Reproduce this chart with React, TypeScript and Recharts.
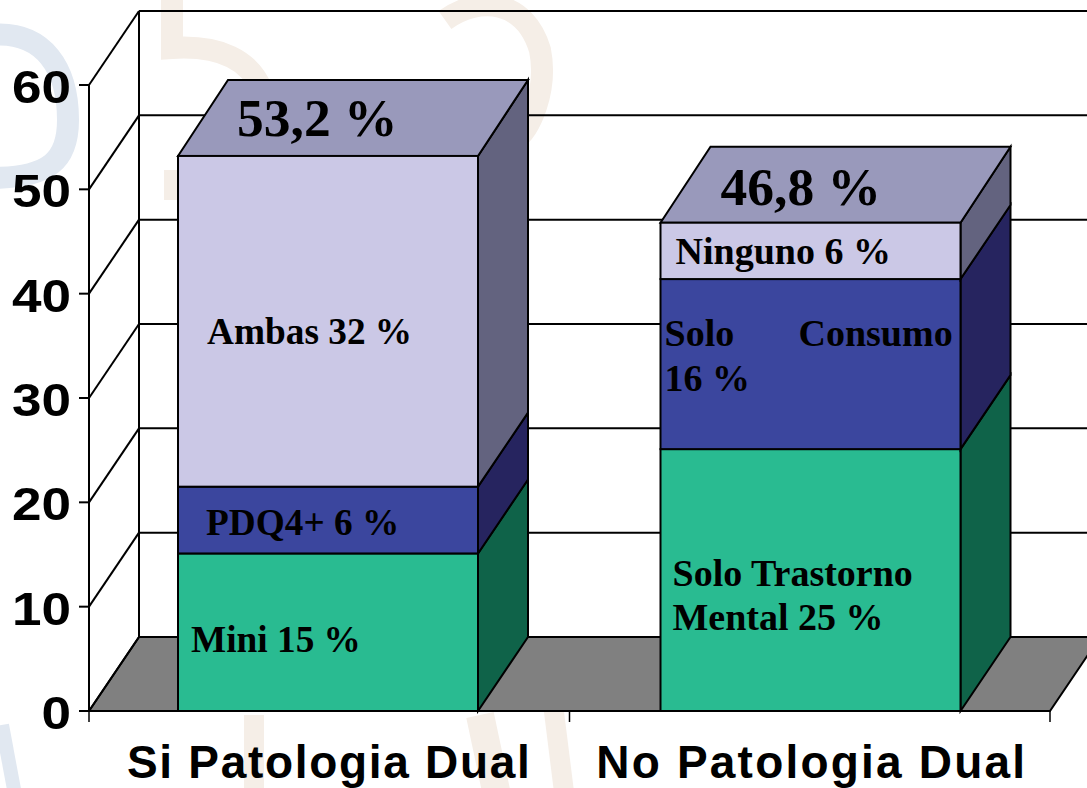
import React from "react";
import { BarChart, Bar, XAxis, YAxis, CartesianGrid } from "recharts";

const categories = ["Si Patologia Dual", "No Patologia Dual"];
const lowerValues = [15.1, 25.1];
const middleValues = [6.4, 16.3];
const upperValues = [31.7, 5.4];
const yTicks = [0, 10, 20, 30, 40, 50, 60];
const totalLabels = ["53,2 %", "46,8 %"];
const lowerLabels = [["Mini 15 %"], ["Solo Trastorno", "Mental 25 %"]];
const middleLabels = [["PDQ4+ 6 %"], ["Solo", "Consumo", "16 %"]];
const upperLabels = [["Ambas 32 %"], ["Ninguno 6 %"]];

const rows = categories.map((name, i) => ({
  name,
  lower: lowerValues[i],
  middle: middleValues[i],
  upper: upperValues[i],
}));

const W = 1087;
const H = 788;
const M = { top: 85, right: 37, bottom: 0, left: 0 };
const AXIS_W = 89;
const AXIS_H = 77;
const DX = 50;
const DY = 74;
const TOP_DY = 76;
const BOTTOM = H - AXIS_H;
const TOP = M.top;
const SERIF = "'Liberation Serif', 'Times New Roman', serif";
const SANS = "'Liberation Sans', Arial, sans-serif";

// style tables: per-category nudges and label placement relative to the segment
const barShift = [-1, 1];
const labelSize = [37.3, 38];
const categorySpacing = [1.7, 2.2];
const categoryShift = [0, 2];
const lowerPlace = [[{ dx: 13, dy: 99 }], [{ dx: 12, dy: 137 }, { dx: 12, dy: 181 }]];
const middlePlace = [[{ dx: 28, dy: 48 }], [{ dx: 4, dy: 67 }, { dx: 138, dy: 67 }, { dx: 4, dy: 112 }]];
const upperPlace = [[{ dx: 29, dy: 188 }], [{ dx: 15, dy: 41 }]];
const totalPlace = [{ dx: 59, dy: -20 }, { dx: 60, dy: -18 }];

const Segment = (p: any) => {
  const { y, width, height, index, front, side, texts, places, top } = p;
  const x = p.x + barShift[index];
  const r = x + width;
  const b = y + height;
  const rise = top ? TOP_DY : DY;
  return (
    <g>
      <polygon
        points={`${r},${y} ${r + DX},${y - rise} ${r + DX},${b - DY} ${r},${b}`}
        fill={side}
        stroke="#000"
        strokeWidth={2}
      />
      {top && (
        <polygon
          points={`${x},${y} ${x + DX},${y - rise} ${r + DX},${y - rise} ${r},${y}`}
          fill="#9999BB"
          stroke="#000"
          strokeWidth={2}
        />
      )}
      <rect x={x} y={y} width={width} height={height} fill={front} stroke="#000" strokeWidth={2} />
      {texts[index].map((t: string, i: number) => (
        <text
          key={t}
          x={x + places[index][i].dx}
          y={y + places[index][i].dy}
          fontFamily={SERIF}
          fontWeight={700}
          fontSize={labelSize[index]}
          fill="#000"
        >
          {t}
        </text>
      ))}
      {top && (
        <text
          x={x + totalPlace[index].dx}
          y={y + totalPlace[index].dy}
          fontFamily={SERIF}
          fontWeight={700}
          fontSize={53.5}
          fill="#000"
        >
          {totalLabels[index]}
        </text>
      )}
    </g>
  );
};

const GridLine = (p: any) => {
  const { x1, y1, x2 } = p;
  const isFloor = Math.abs(y1 - BOTTOM) < 0.5;
  return (
    <g>
      {isFloor && (
        <polygon
          points={`${x1},${y1} ${x1 + DX},${y1 - DY} ${x2 + DX},${y1 - DY} ${x2},${y1}`}
          fill="#808080"
          stroke="#000"
          strokeWidth={2}
        />
      )}
      {isFloor && (
        <line x1={x1 + DX} y1={y1 - DY} x2={x1 + DX} y2={TOP - DY} stroke="#000" strokeWidth={2} />
      )}
      <line x1={x1} y1={y1} x2={x1 + DX} y2={y1 - DY} stroke="#000" strokeWidth={2} />
      <line x1={x1 + DX} y1={y1 - DY} x2={x2 + DX} y2={y1 - DY} stroke="#000" strokeWidth={2} />
    </g>
  );
};

const YTick = (p: any) => (
  <text
    transform={`translate(71,${p.y + 18}) scale(1.13,1)`}
    textAnchor="end"
    fontFamily={SANS}
    fontWeight={700}
    fontSize={47}
    fill="#000"
  >
    {p.payload.value}
  </text>
);

const XTick = (p: any) => {
  const band = (W - M.right - AXIS_W) / categories.length;
  const left = p.x - band / 2;
  return (
    <g>
      <line x1={left} y1={BOTTOM} x2={left} y2={BOTTOM + 11} stroke="#000" strokeWidth={1.5} />
      {p.index === categories.length - 1 && (
        <line x1={left + band} y1={BOTTOM} x2={left + band} y2={BOTTOM + 11} stroke="#000" strokeWidth={1.5} />
      )}
      <text
        x={p.x + categoryShift[p.index]}
        y={778}
        textAnchor="middle"
        fontFamily={SANS}
        fontWeight={700}
        fontSize={46}
        letterSpacing={categorySpacing[p.index]}
        fill="#000"
      >
        {p.payload.value}
      </text>
    </g>
  );
};

const Watermark = () => (
  <svg width={W} height={H} style={{ position: "absolute", left: 0, top: 0 }}>
    <g fill="none" strokeWidth={22}>
      <path d="M-10,35 C45,30 68,70 68,120 C68,160 50,178 -10,178" stroke="#E1E8F1" />
      <path d="M2,725 L16,800" stroke="#E1E8F1" strokeWidth={14} />
      <path d="M172,-5 L172,48 C220,45 250,60 262,90" stroke="#F5EEE7" />
      <path d="M175,170 L175,200" stroke="#F5EEE7" />
      <path d="M445,20 C480,-5 525,0 540,50 C548,90 530,130 515,140" stroke="#F5EEE7" />
      <path d="M254,715 L254,800" stroke="#F5EEE7" strokeWidth={20} />
      <path d="M480,715 L498,800" stroke="#F5EEE7" strokeWidth={28} />
      <path d="M545,640 L565,800" stroke="#F5EEE7" strokeWidth={20} />
    </g>
  </svg>
);

export default function App() {
  return (
    <div style={{ position: "absolute", left: 0, top: 0, width: W, height: H, overflow: "hidden", background: "#fff" }}>
      <Watermark />
      <div style={{ position: "absolute", left: 0, top: 0 }}>
        <BarChart width={W} height={H} data={rows} margin={M} barSize={300} style={{ overflow: "visible" }}>
          <CartesianGrid horizontal={(pp: any) => <GridLine key={pp.key} {...pp} />} vertical={false} />
          <XAxis
            dataKey="name"
            height={AXIS_H}
            axisLine={{ stroke: "#000", strokeWidth: 2 }}
            tickLine={false}
            tick={(pp: any) => <XTick {...pp} />}
            interval={0}
          />
          <YAxis
            width={AXIS_W}
            domain={[0, 60]}
            ticks={yTicks}
            axisLine={{ stroke: "#000", strokeWidth: 2 }}
            tickLine={{ stroke: "#000", strokeWidth: 2 }}
            tickSize={10}
            tick={(pp: any) => <YTick {...pp} />}
            interval={0}
          />
          <Bar
            dataKey="lower"
            stackId="s"
            isAnimationActive={false}
            shape={(pp: any) => (
              <Segment {...pp} front="#29BB91" side="#0F6349" texts={lowerLabels} places={lowerPlace} />
            )}
          />
          <Bar
            dataKey="middle"
            stackId="s"
            isAnimationActive={false}
            shape={(pp: any) => (
              <Segment {...pp} front="#3B469E" side="#26245F" texts={middleLabels} places={middlePlace} />
            )}
          />
          <Bar
            dataKey="upper"
            stackId="s"
            isAnimationActive={false}
            shape={(pp: any) => (
              <Segment {...pp} front="#CBC8E6" side="#63637F" texts={upperLabels} places={upperPlace} top />
            )}
          />
        </BarChart>
      </div>
    </div>
  );
}
